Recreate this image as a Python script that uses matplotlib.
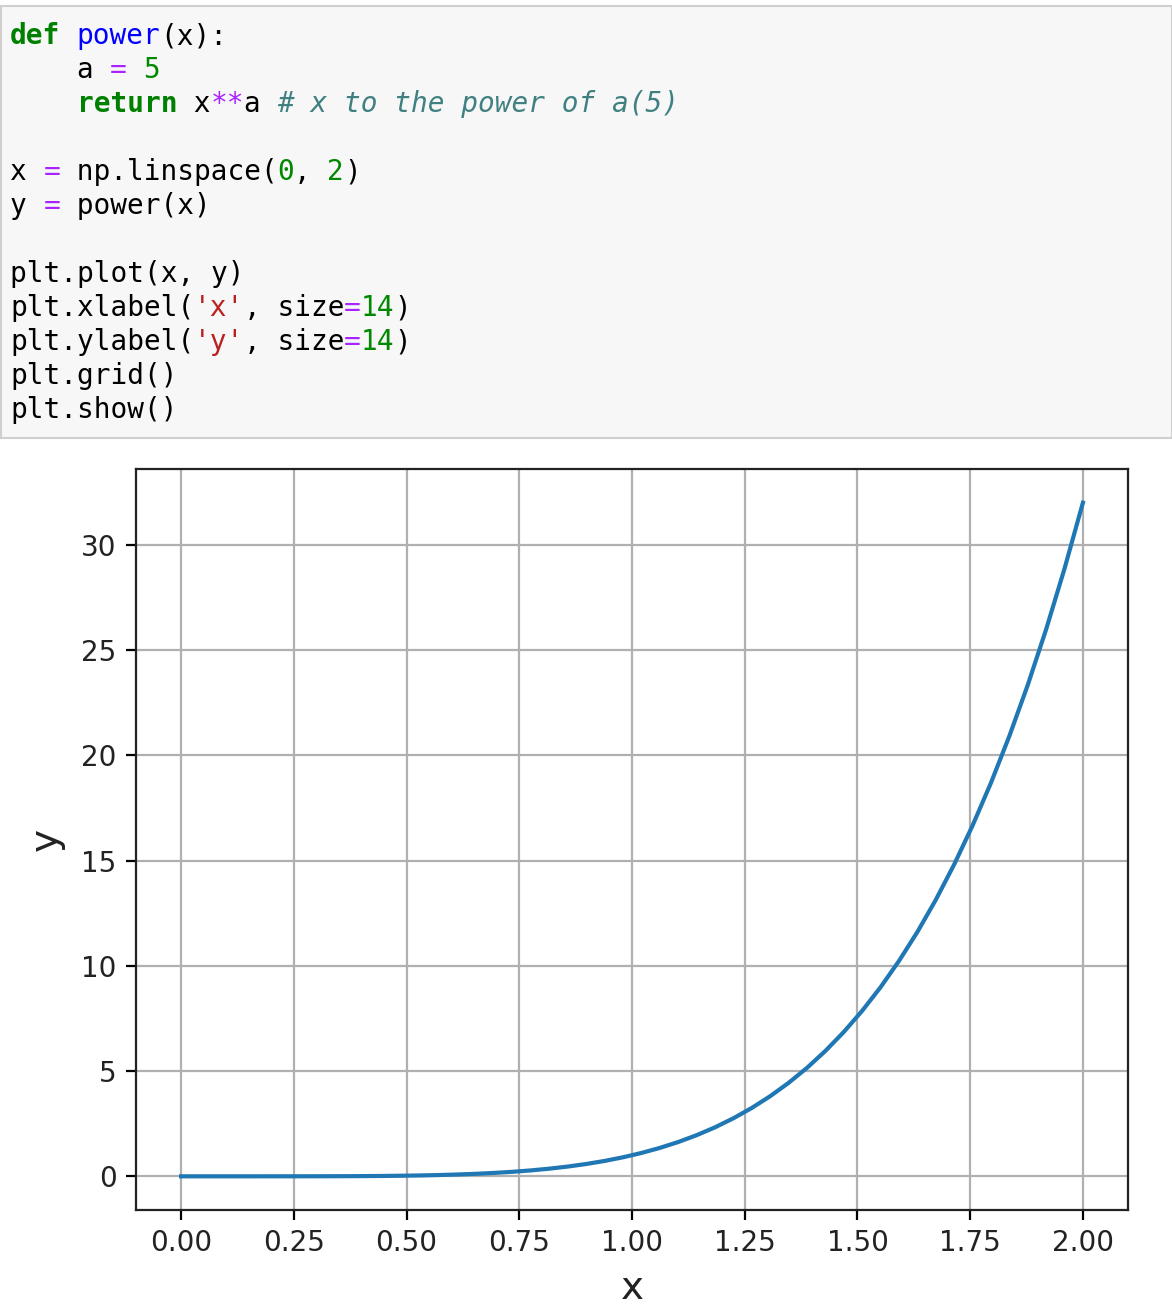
import matplotlib
matplotlib.use("Agg")
import matplotlib.pyplot as plt

# 50 samples of the curve (x from 0 to 2)
x_vals = [0.0000, 0.0408, 0.0816, 0.1224, 0.1633, 0.2041, 0.2449, 0.2857, 0.3265, 0.3673,
          0.4082, 0.4490, 0.4898, 0.5306, 0.5714, 0.6122, 0.6531, 0.6939, 0.7347, 0.7755,
          0.8163, 0.8571, 0.8980, 0.9388, 0.9796, 1.0204, 1.0612, 1.1020, 1.1429, 1.1837,
          1.2245, 1.2653, 1.3061, 1.3469, 1.3878, 1.4286, 1.4694, 1.5102, 1.5510, 1.5918,
          1.6327, 1.6735, 1.7143, 1.7551, 1.7959, 1.8367, 1.8776, 1.9184, 1.9592, 2.0000]
y_vals = [0.0000, 0.0000, 0.0000, 0.0000, 0.0001, 0.0004, 0.0009, 0.0019, 0.0037, 0.0067,
          0.0113, 0.0182, 0.0282, 0.0421, 0.0609, 0.0860, 0.1188, 0.1608, 0.2141, 0.2805,
          0.3625, 0.4627, 0.5838, 0.7291, 0.9020, 1.1063, 1.3460, 1.6255, 1.9497, 2.3236,
          2.7528, 3.2432, 3.8012, 4.4334, 5.1471, 5.9499, 6.8499, 7.8556, 8.9761, 10.2210,
          11.6003, 13.1247, 14.8053, 16.6538, 18.6824, 20.9042, 23.3324, 25.9813, 28.8654, 32.0000]
x_ticks = [0.00, 0.25, 0.50, 0.75, 1.00, 1.25, 1.50, 1.75, 2.00]
y_ticks = [0, 5, 10, 15, 20, 25, 30]

# code cell shown above the chart: (text, style) tokens per line
code_lines = [
    [("def", "kw"), (" ", ""), ("power", "fn"), ("(x):", "")],
    [("    a ", ""), ("=", "op"), (" ", ""), ("5", "num")],
    [("    ", ""), ("return", "kw"), (" x", ""), ("**", "op"), ("a ", ""),
     ("# x to the power of a(5)", "cm")],
    [],
    [("x ", ""), ("=", "op"), (" np.linspace(", ""), ("0", "num"), (", ", ""),
     ("2", "num"), (")", "")],
    [("y ", ""), ("=", "op"), (" power(x)", "")],
    [],
    [("plt.plot(x, y)", "")],
    [("plt.xlabel(", ""), ("'x'", "str"), (", size", ""), ("=", "op"), ("14", "num"), (")", "")],
    [("plt.ylabel(", ""), ("'y'", "str"), (", size", ""), ("=", "op"), ("14", "num"), (")", "")],
    [("plt.grid()", "")],
    [("plt.show()", "")],
]

styles = {
    "": dict(color="#000000"),
    "kw": dict(color="#008000", weight="bold"),
    "fn": dict(color="#0000ff"),
    "op": dict(color="#aa22ff"),
    "num": dict(color="#008800"),
    "str": dict(color="#ba2121"),
    "cm": dict(color="#408080", style="italic"),
}

W, H = 1172, 1312
fig = plt.figure(figsize=(W / 100, H / 100), dpi=100, facecolor="white")

# code cell background
box = plt.Rectangle((1 / W, 1 - 438 / H), (W - 1) / W, 432 / H, transform=fig.transFigure,
                    facecolor="#f7f7f7", edgecolor="#cfcfcf", linewidth=1.5)
fig.patches.append(box)

char_w = 16.7
for i, line in enumerate(code_lines):
    col = 0
    yp = 36 + 34 * i
    for txt, st in line:
        fig.text((10 + col * char_w) / W, 1 - yp / H, txt, family="DejaVu Sans Mono",
                 fontsize=20, va="center", ha="left", **styles[st])
        col += len(txt)

ax = fig.add_axes([136 / W, 1 - 1210 / H, (1128 - 136) / W, (1210 - 469) / H])
ax.plot(x_vals, y_vals, color="#1f77b4", linewidth=3)
ax.set_xticks(x_ticks)
ax.set_yticks(y_ticks)
ax.set_xticklabels(["%.2f" % t for t in x_ticks])
ax.set_xlim(-0.1, 2.1)
ax.set_ylim(-1.6, 33.6)
ax.tick_params(labelsize=20, length=7, width=1.6, pad=7, labelcolor="#222222")
ax.set_xlabel("x", size=28, labelpad=8, color="#222222")
ax.set_ylabel("y", size=28, labelpad=12, color="#222222")
ax.grid(True, color="#b0b0b0", linewidth=1.6)
for s in ax.spines.values():
    s.set_linewidth(1.6)
    s.set_color("#222222")

fig.savefig("out.png", dpi=100)
